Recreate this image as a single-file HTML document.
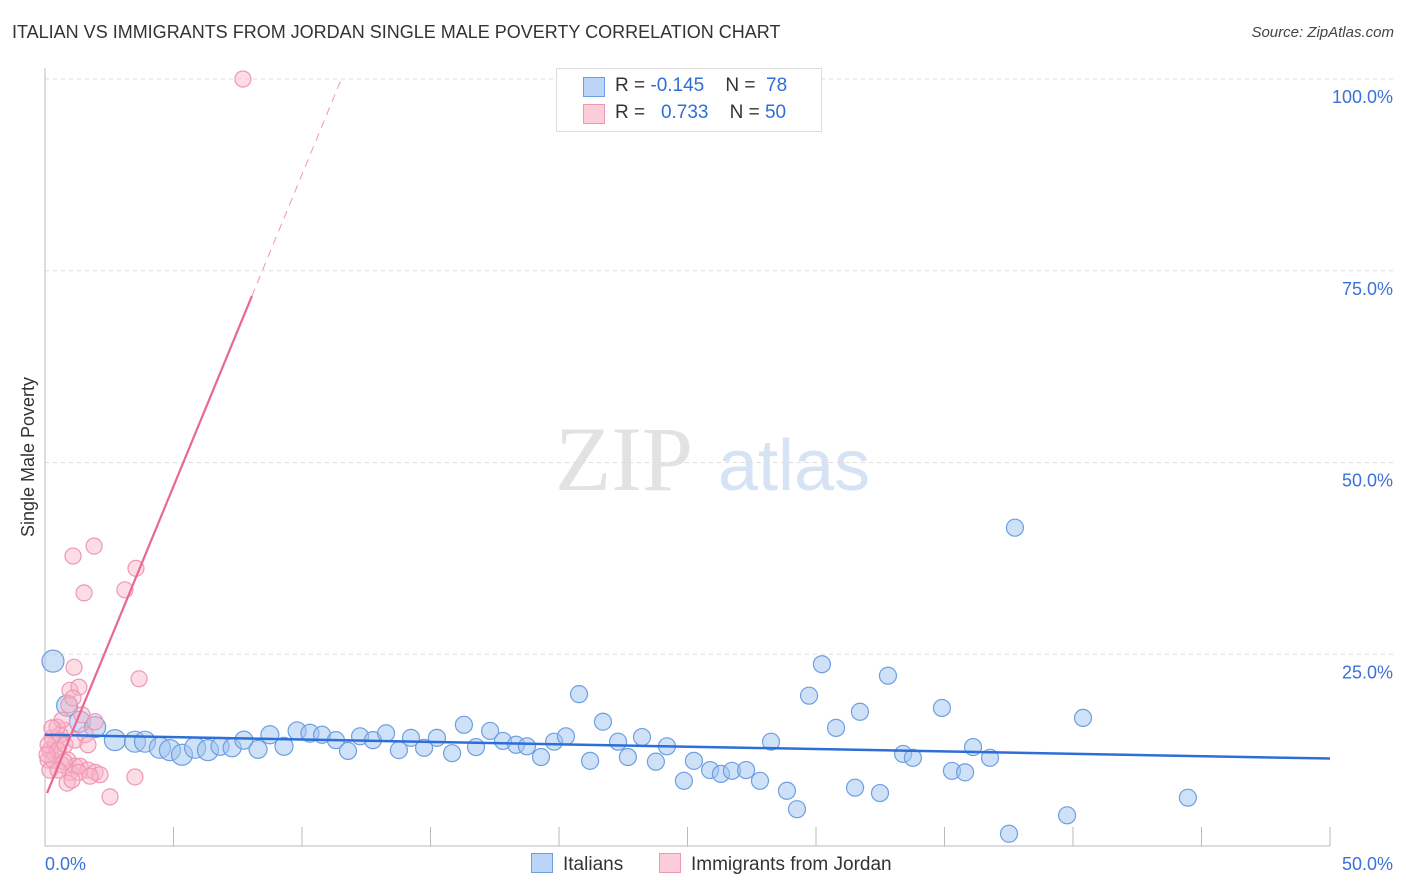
<!DOCTYPE html>
<html><head><meta charset="utf-8"><style>
body{margin:0;background:#fff;font-family:"Liberation Sans",sans-serif;}
#wrap{position:relative;width:1406px;height:892px;overflow:hidden;}
.t{position:absolute;white-space:nowrap;}
</style></head><body>
<div id="wrap">
<div class="t" style="left:12px;top:22px;font-size:18px;color:#333;">ITALIAN VS IMMIGRANTS FROM JORDAN SINGLE MALE POVERTY CORRELATION CHART</div>
<div class="t" style="right:12px;top:24px;font-size:15px;color:#444;font-style:italic;">Source: ZipAtlas.com</div>
<svg id="svg" width="1406" height="892" style="position:absolute;left:0;top:0"></svg>
</div>
<script>
const blueX=[0.31,0.86,1.36,1.95,2.72,3.5,3.89,4.47,4.86,5.33,5.84,6.34,6.81,7.28,7.74,8.29,8.75,9.3,9.81,10.31,10.78,11.32,11.79,12.26,12.76,13.27,13.77,14.24,14.75,15.25,15.84,16.3,16.77,17.32,17.82,18.33,18.75,19.3,19.81,20.27,20.78,21.21,21.71,22.3,22.68,23.23,23.77,24.2,24.86,25.25,25.88,26.3,26.73,27.28,27.82,28.25,28.87,29.26,29.73,30.23,30.78,31.52,31.71,32.49,32.8,33.39,33.77,34.9,35.29,35.8,36.11,36.77,37.51,37.74,39.77,40.39,44.47];
const blueY=[24.1,18.3,16.2,15.5,13.8,13.6,13.6,12.8,12.5,11.9,12.8,12.5,13.0,12.8,13.8,12.6,14.5,13.0,15.0,14.7,14.5,13.8,12.4,14.3,13.8,14.7,12.5,14.1,12.8,14.1,12.1,15.8,12.9,15.0,13.7,13.2,13.0,11.6,13.6,14.3,19.8,11.1,16.2,13.6,11.6,14.2,11.0,13.0,8.5,11.1,9.9,9.4,9.8,9.9,8.5,13.6,7.2,4.8,19.6,23.7,15.4,7.6,17.5,6.9,22.2,12.0,11.5,18.0,9.8,9.6,12.9,11.5,1.6,41.5,4.0,16.7,6.3];
const pinkX=[7.7,1.91,1.09,3.54,1.52,3.11,3.66,1.13,0.97,1.32,0.93,1.09,1.44,1.95,0.74,0.58,0.39,0.19,0.12,0.39,0.58,0.27,0.19,0.89,1.17,0.97,1.36,1.67,0.66,1.95,2.14,1.32,1.75,0.86,2.53,3.5,0.47,0.66,0.12,0.31,0.51,0.78,1.17,1.56,0.74,0.51,1.05,1.67,0.08,0.27];
const pinkY=[100,39.1,37.8,36.2,33.0,33.4,21.8,23.3,20.3,20.7,18.4,19.3,17.1,16.2,15.1,13.8,13.2,12.5,11.2,11.9,14.5,14.1,9.9,11.2,10.4,9.6,10.4,9.9,10.6,9.6,9.3,9.6,9.1,8.2,6.4,9.0,15.5,16.4,13.2,11.2,12.5,13.2,13.8,14.5,11.0,9.9,8.6,13.2,11.9,15.4];
const blueFit=[14.5,-0.062];   // intercept, slope
const pinkFit=[6.25,8.13];
const yTicks=[25,50,75,100];
const yTickLabels=["25.0%","50.0%","75.0%","100.0%"];
const xTicks=[0,5,10,15,20,25,30,35,40,45,50];

const X0=45,X1=1330,Y0=846,Y1=79;
const sx=v=>X0+(v/50)*(X1-X0);
const sy=v=>Y0-(v/100)*(Y0-Y1);
const svg=document.getElementById('svg');
const NS='http://www.w3.org/2000/svg';
function mk(tag,attrs,parent){const e=document.createElementNS(NS,tag);for(const k in attrs)e.setAttribute(k,attrs[k]);(parent||svg).appendChild(e);return e;}

// watermark
let w=mk('text',{x:555,y:490,'font-size':92,'font-family':'Liberation Serif,serif',fill:'#e2e2e2'});w.textContent='ZIP';


let w2=mk('text',{x:718,y:490,'font-size':72,'font-family':'Liberation Sans,sans-serif',fill:'#d5e3f5'});w2.textContent='atlas';



// gridlines
yTicks.forEach((t,i)=>{
  const g=mk('line',{x1:X0,x2:1395,y1:sy(t),y2:sy(t),stroke:'#ddd','stroke-dasharray':'4,4'});
  
  
  const tx=mk('text',{x:1393,y:sy(t)+24,'text-anchor':'end','font-size':18,fill:'#3a72d8'});tx.textContent=yTickLabels[i];
  
  
});
// axes
let ax=mk('line',{x1:X0,x2:X0,y1:68,y2:846,stroke:'#bbb'});


let bx=mk('line',{x1:X0,x2:X1,y1:846,y2:846,stroke:'#bbb'});


xTicks.forEach(t=>{
  const l=mk('line',{x1:sx(t),x2:sx(t),y1:827,y2:846,stroke:'#bbb'});
  
  
});
let xl0=mk('text',{x:45,y:870,'font-size':18,fill:'#3a72d8'});xl0.textContent='0.0%';


let xl1=mk('text',{x:1393,y:870,'text-anchor':'end','font-size':18,fill:'#3a72d8'});xl1.textContent='50.0%';


let yt=mk('text',{x:34,y:457,'font-size':18,fill:'#333',transform:'rotate(-90 34 457)','text-anchor':'middle'});yt.textContent='Single Male Poverty';



// points
blueX.forEach((x,i)=>{
  const r=i<1?11:i<12?10.5:i<20?9:8.5;
  const c=mk('circle',{cx:sx(x),cy:sy(blueY[i]),r:r,fill:'rgba(160,195,240,0.5)',stroke:'#6d9fe3','stroke-width':1.2});
  
  
});
pinkX.forEach((x,i)=>{
  const c=mk('circle',{cx:sx(x),cy:sy(pinkY[i]),r:8,fill:'rgba(248,180,200,0.45)',stroke:'#ee98b3','stroke-width':1.2});
  
  
});
// fits
let bl=mk('line',{x1:sx(0),y1:sy(blueFit[0]),x2:sx(50),y2:sy(blueFit[0]+blueFit[1]*50),stroke:'#2d6fd6','stroke-width':2.5});


const pe=8.05, pd=11.5;
let pl=mk('line',{x1:sx(0.08),y1:sy(pinkFit[0]+pinkFit[1]*0.08),x2:sx(pe),y2:sy(pinkFit[0]+pinkFit[1]*pe),stroke:'#ea6890','stroke-width':2.2});


let pdl=mk('line',{x1:sx(pe),y1:sy(pinkFit[0]+pinkFit[1]*pe),x2:sx(pd),y2:sy(pinkFit[0]+pinkFit[1]*pd),stroke:'#ea9ab3','stroke-width':1,'stroke-dasharray':'8,6'});


</script>
<div class="t" style="left:556px;top:68px;width:264px;height:62px;border:1px solid #ddd;background:#fff;font-size:19px;color:#333;">
  <div style="position:absolute;left:26px;top:8px;width:20px;height:18px;background:#bcd4f6;border:1px solid #6d9fe3;"></div>
  <div style="position:absolute;left:58px;top:6px;">R = <span style="color:#2d6fd6">-0.145</span>&nbsp;&nbsp;&nbsp; N = &nbsp;<span style="color:#2d6fd6">78</span></div>
  <div style="position:absolute;left:26px;top:35px;width:20px;height:18px;background:#fbcdd9;border:1px solid #ee98b3;"></div>
  <div style="position:absolute;left:58px;top:33px;">R = &nbsp;&nbsp;<span style="color:#2d6fd6">0.733</span>&nbsp;&nbsp;&nbsp; N = <span style="color:#2d6fd6">50</span></div>
</div>
<div class="t" style="left:531px;top:853px;font-size:19px;color:#333;"><span style="display:inline-block;width:20px;height:18px;background:#bcd4f6;border:1px solid #6d9fe3;vertical-align:-3px;margin-right:10px;"></span>Italians</div>
<div class="t" style="left:659px;top:853px;font-size:19px;color:#333;"><span style="display:inline-block;width:20px;height:18px;background:#fbcdd9;border:1px solid #ee98b3;vertical-align:-3px;margin-right:10px;"></span>Immigrants from Jordan</div>
</body></html>
